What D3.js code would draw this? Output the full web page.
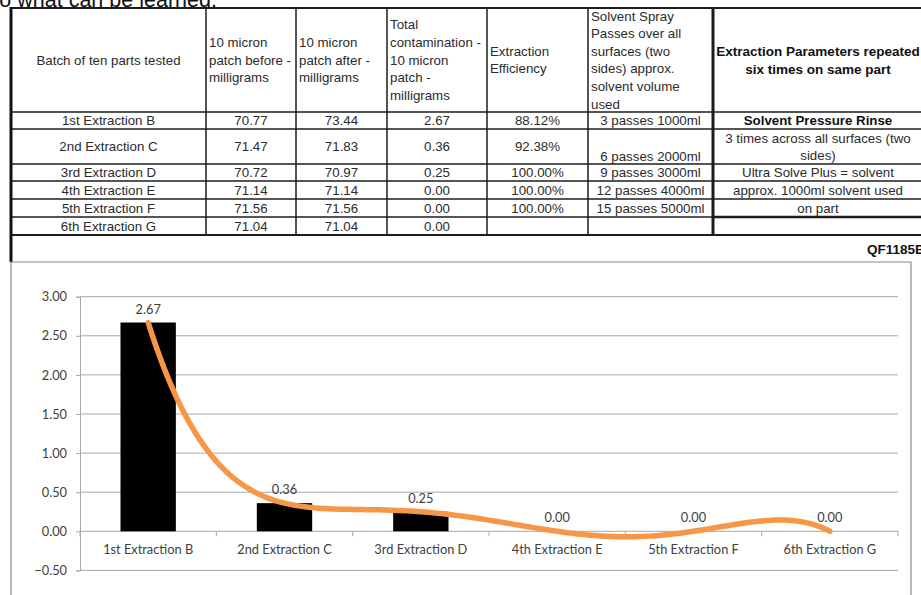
<!DOCTYPE html>
<html>
<head>
<meta charset="utf-8">
<script src="https://cdn.jsdelivr.net/npm/d3@7"></script>
<style>
  body { margin: 0; background: #fff; }
  svg { display: block; }
</style>
</head>
<body>
<svg id="sheet" width="921" height="595"></svg>
<script>
// ---- data ----
const categories = ["1st Extraction B", "2nd Extraction C", "3rd Extraction D",
                    "4th Extraction E", "5th Extraction F", "6th Extraction G"];
const patchBefore = [70.77, 71.47, 70.72, 71.14, 71.56, 71.04];
const patchAfter = [73.44, 71.83, 70.97, 71.14, 71.56, 71.04];
const contamination = [2.67, 0.36, 0.25, 0.00, 0.00, 0.00];
const efficiency = ["88.12%", "92.38%", "100.00%", "100.00%", "100.00%", ""];
const sprayPasses = ["3 passes 1000ml", "6 passes 2000ml", "9 passes 3000ml",
                     "12 passes 4000ml", "15 passes 5000ml", ""];
const parameterNotes = ["3 times across all surfaces (two", "sides)",
                        "Ultra Solve Plus = solvent", "approx. 1000ml solvent used", "on part"];
const parameterTitle = "Solvent Pressure Rinse";
const headers = [
  ["Batch of ten parts tested"],
  ["10 micron", "patch before -", "milligrams"],
  ["10 micron", "patch after -", "milligrams"],
  ["Total", "contamination -", "10 micron", "patch -", "milligrams"],
  ["Extraction", "Efficiency"],
  ["Solvent Spray", "Passes over all", "surfaces (two", "sides) approx.", "solvent volume", "used"],
  ["Extraction Parameters repeated", "six times on same part"]
];
const yTicks = [-0.5, 0, 0.5, 1, 1.5, 2, 2.5, 3];
const trendOrder = 5;
const docRef = "QF1185B";
const heading = "So what can be learned:";

// ---- layout ----
const svg = d3.select("#sheet");
const W = 921, H = 595;
svg.append("rect").attr("width", W).attr("height", H).attr("fill", "#fff");

const tableFont = "'Liberation Sans', Arial, sans-serif";
const chartFont = "Lato, 'Open Sans', sans-serif";
const ink = "#2b2b2b";
const fs = 13.3;

// heading above the table, mostly scrolled off the top
svg.append("text")
  .attr("x", -15).attr("y", 7)
  .attr("font-family", tableFont).attr("font-size", 21.5)
  .attr("fill", "#111")
  .text(heading);

// ---- spreadsheet table ----
const colX = [11, 206, 296, 387, 487, 588, 713, 925];
const rowY = [8, 112, 129, 164, 181, 199, 217, 235];
const tbl = svg.append("g");

// header text
const headerMid = (rowY[0] + rowY[1]) / 2;
const lh = 17.6;
headers.forEach((lines, c) => {
  const n = lines.length;
  const centred = (c === 0 || c === 6);
  lines.forEach((t, i) => {
    tbl.append("text")
      .attr("x", centred ? (c === 6 ? 818 : (colX[c] + colX[c + 1]) / 2) : colX[c] + 3)
      .attr("y", headerMid + (i - (n - 1) / 2) * lh)
      .attr("dy", "0.35em")
      .attr("text-anchor", centred ? "middle" : "start")
      .attr("font-family", tableFont)
      .attr("font-size", c === 6 ? 13.5 : fs)
      .attr("font-weight", c === 6 ? "bold" : "normal")
      .attr("fill", c === 6 ? "#111" : ink)
      .text(t);
  });
});

// body rows
const cellText = (c, r, t, opts = {}) => {
  const cx = c === 6 ? 818 : (colX[c] + colX[c + 1]) / 2;
  const cy = opts.y !== undefined ? opts.y : (rowY[r + 1] + rowY[r + 2]) / 2;
  tbl.append("text")
    .attr("x", cx).attr("y", cy).attr("dy", "0.35em")
    .attr("text-anchor", "middle")
    .attr("font-family", tableFont).attr("font-size", fs)
    .attr("font-weight", opts.bold ? "bold" : "normal")
    .attr("fill", opts.bold ? "#111" : ink)
    .text(t);
};
categories.forEach((cat, r) => {
  cellText(0, r, cat);
  cellText(1, r, patchBefore[r].toFixed(2));
  cellText(2, r, patchAfter[r].toFixed(2));
  cellText(3, r, contamination[r].toFixed(2));
  cellText(4, r, efficiency[r]);
  // the tall second row keeps its pass count at the bottom of the cell
  if (r === 1) cellText(5, r, sprayPasses[r], { y: rowY[3] - 8 });
  else cellText(5, r, sprayPasses[r]);
});
cellText(6, 0, parameterTitle, { bold: true });
const noteY = [138, 155, 172.5, 190, 208.5];
parameterNotes.forEach((t, i) => cellText(6, 0, t, { y: noteY[i] }));

// grid lines of the table
const lineCol = "#1c1c1c";
rowY.forEach((y, i) => {
  tbl.append("line")
    .attr("x1", colX[0]).attr("x2", W)
    .attr("y1", y).attr("y2", y)
    .attr("stroke", lineCol).attr("stroke-width", i === 0 || i === 7 ? 2 : 1.5);
});
// heavier rule under the notes block
tbl.append("line").attr("x1", colX[6]).attr("x2", W)
  .attr("y1", rowY[6]).attr("y2", rowY[6])
  .attr("stroke", lineCol).attr("stroke-width", 2.5);
colX.slice(1, 7).forEach((x, i) => {
  tbl.append("line")
    .attr("x1", x).attr("x2", x)
    .attr("y1", rowY[0]).attr("y2", rowY[7])
    .attr("stroke", lineCol).attr("stroke-width", i === 5 ? 3 : 1.5);
});
tbl.append("line")
  .attr("x1", colX[0]).attr("x2", colX[0])
  .attr("y1", rowY[0] - 1).attr("y2", 262)
  .attr("stroke", "#111").attr("stroke-width", 3);

tbl.append("text")
  .attr("x", 867).attr("y", 249).attr("dy", "0.35em")
  .attr("font-family", tableFont).attr("font-size", 13.5)
  .attr("font-weight", "bold").attr("fill", "#111")
  .text(docRef);

// ---- embedded chart ----
const box = { left: 11, top: 262, right: 911, bottom: 620 };
svg.append("path")
  .attr("d", `M${box.left},${box.bottom}V${box.top}H${box.right}V${box.bottom}`)
  .attr("fill", "none").attr("stroke", "#8a8a8a").attr("stroke-width", 1.2);

const plot = { left: 80, right: 898 };
const y = d3.scaleLinear().domain([-0.5, 3]).range([570.4, 296.7]);
const x = d3.scaleBand().domain(categories)
  .range([plot.left, plot.right]).paddingInner(0.594).paddingOuter(0.297);
const step = x.step();
const chart = svg.append("g");
const cfs = 12.8;

// horizontal gridlines
chart.append("g").selectAll("line").data(yTicks.filter(v => v !== 0)).join("line")
  .attr("x1", plot.left).attr("x2", plot.right)
  .attr("y1", d => y(d)).attr("y2", d => y(d))
  .attr("stroke", "#a8a8a8").attr("stroke-width", 1);

// value axis
const yAxis = chart.append("g")
  .attr("transform", `translate(${plot.left},0)`)
  .call(d3.axisLeft(y).tickValues(yTicks).tickFormat(d3.format(".2f"))
        .tickSize(4).tickPadding(9));
yAxis.select(".domain").attr("stroke", "#a8a8a8");
yAxis.selectAll(".tick line").attr("stroke", "#a8a8a8");
yAxis.selectAll(".tick text")
  .attr("font-family", chartFont).attr("font-size", cfs).attr("fill", "#404040");

// category axis along zero, ticks between categories
const edgeScale = d3.scaleLinear().domain([0, categories.length]).range([plot.left, plot.right]);
chart.append("line")
  .attr("x1", plot.left).attr("x2", plot.right)
  .attr("y1", y(0)).attr("y2", y(0))
  .attr("stroke", "#a8a8a8").attr("stroke-width", 1);
chart.append("g").selectAll("line").data(d3.range(categories.length + 1)).join("line")
  .attr("x1", d => edgeScale(d)).attr("x2", d => edgeScale(d))
  .attr("y1", y(0)).attr("y2", y(0) + 5)
  .attr("stroke", "#a8a8a8");
chart.append("g").selectAll("text").data(categories).join("text")
  .attr("x", d => x(d) + x.bandwidth() / 2)
  .attr("y", 550).attr("dy", "0.35em")
  .attr("text-anchor", "middle")
  .attr("font-family", chartFont).attr("font-size", cfs).attr("fill", "#404040")
  .text(d => d);

// bars
chart.append("g").selectAll("rect").data(contamination).join("rect")
  .attr("x", (d, i) => x(categories[i]))
  .attr("width", x.bandwidth())
  .attr("y", d => y(Math.max(0, d)))
  .attr("height", d => Math.abs(y(d) - y(0)))
  .attr("fill", "#000");

// polynomial trendline (least squares, order 5) over the contamination series
function polyFit(xs, ys, order) {
  const m = order + 1;
  const A = Array.from({ length: m }, () => new Array(m + 1).fill(0));
  for (let r = 0; r < m; r++) {
    for (let c = 0; c < m; c++) A[r][c] = d3.sum(xs, xv => Math.pow(xv, r + c));
    A[r][m] = d3.sum(xs, (xv, k) => ys[k] * Math.pow(xv, r));
  }
  for (let p = 0; p < m; p++) {
    let best = p;
    for (let r = p + 1; r < m; r++) if (Math.abs(A[r][p]) > Math.abs(A[best][p])) best = r;
    [A[p], A[best]] = [A[best], A[p]];
    for (let r = 0; r < m; r++) {
      if (r === p) continue;
      const f = A[r][p] / A[p][p];
      for (let c = p; c <= m; c++) A[r][c] -= f * A[p][c];
    }
  }
  return A.map((row, i) => row[m] / row[i]);
}
const xs = contamination.map((d, i) => i + 1);
const coef = polyFit(xs, contamination, trendOrder);
const trend = t => coef.reduce((s, c, k) => s + c * Math.pow(t, k), 0);
const xPos = t => x(categories[0]) + x.bandwidth() / 2 + (t - 1) * step;
const samples = d3.range(0, 201).map(k => 1 + k * (categories.length - 1) / 200);
chart.append("path")
  .datum(samples)
  .attr("d", d3.line().x(t => xPos(t)).y(t => y(trend(t))))
  .attr("fill", "none").attr("stroke", "#F79646")
  .attr("stroke-width", 5.5).attr("stroke-linecap", "round");

// value labels
chart.append("g").selectAll("text").data(contamination).join("text")
  .attr("x", (d, i) => x(categories[i]) + x.bandwidth() / 2)
  .attr("y", d => y(d) - 9)
  .attr("text-anchor", "middle")
  .attr("font-family", chartFont).attr("font-size", cfs).attr("fill", "#404040")
  .text(d => d.toFixed(2));
</script>
</body>
</html>
